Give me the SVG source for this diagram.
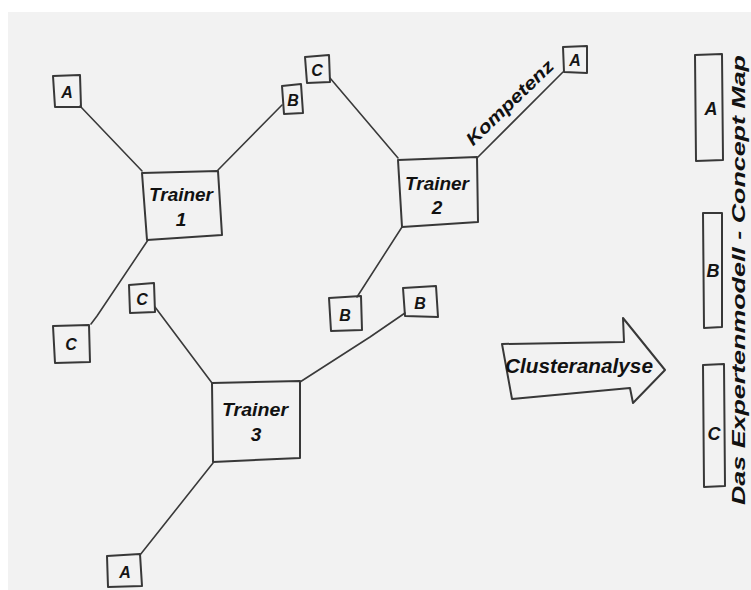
<svg xmlns="http://www.w3.org/2000/svg" width="751" height="590" viewBox="0 0 751 590">
  <style>
    .thin { fill: none; stroke: #3a3a3a; stroke-width: 1.6; stroke-linecap: round; stroke-linejoin: round; }
    .box { fill: none; stroke: #383838; stroke-width: 2; stroke-linejoin: round; }
    .hand { font-family: "Liberation Sans", "DejaVu Sans", sans-serif; font-style: italic; font-weight: bold; fill: #111; }
    .letter { font-family: "Liberation Sans", "DejaVu Sans", sans-serif; font-style: italic; font-weight: bold; font-size: 16px; fill: #151515; text-anchor: middle; }
    .big { font-size: 18px; }
    .trainer { font-size: 19px; text-anchor: middle; }
  </style>

  <!-- paper sheet on a white margin -->
  <rect x="0" y="0" width="751" height="590" fill="#ffffff"/>
  <rect x="8" y="12" width="743" height="578" fill="#f2f2f2"/>

  <!-- connectors -->
  <g id="connectors">
    <path class="thin" d="M80,106 L142,171"/>
    <path class="thin" d="M282,105 L218,170"/>
    <path class="thin" d="M148,240 L97,316 L91,324"/>
    <path class="thin" d="M330,78 L398,158"/>
    <path class="thin" d="M477,158 L563,72"/>
    <path class="thin" d="M402,227 L357,297"/>
    <path class="thin" d="M155,307 L212,383"/>
    <path class="thin" d="M405,313 L370,337 L300,382"/>
    <path class="thin" d="M213,463 L140,555"/>
  </g>

  <!-- Trainer 1 cluster -->
  <g id="trainer1">
    <path class="box" d="M142,173 L218,171 L222,235 L147,240 Z"/>
    <text class="hand trainer" x="181" y="201" textLength="64" lengthAdjust="spacingAndGlyphs">Trainer</text>
    <text class="hand trainer" x="181" y="226">1</text>
  </g>
  <g id="t1-a">
    <path class="box" d="M53,76 L80,75 L81,107 L55,107 Z"/>
    <text class="letter" x="67" y="98">A</text>
  </g>
  <g id="t1-b">
    <path class="box" d="M282,86 L301,84 L303,113 L284,114 Z"/>
    <text class="letter" x="293" y="106">B</text>
  </g>
  <g id="t1-c">
    <path class="box" d="M53,326 L89,325 L90,362 L55,363 Z"/>
    <text class="letter" x="71" y="350">C</text>
  </g>

  <!-- Trainer 2 cluster -->
  <g id="trainer2">
    <path class="box" d="M398,160 L477,157 L478,222 L402,227 Z"/>
    <text class="hand trainer" x="437" y="190" textLength="64" lengthAdjust="spacingAndGlyphs">Trainer</text>
    <text class="hand trainer" x="437" y="214">2</text>
  </g>
  <g id="t2-c">
    <path class="box" d="M305,57 L329,55 L330,82 L307,83 Z"/>
    <text class="letter" x="317" y="76">C</text>
  </g>
  <g id="t2-a">
    <path class="box" d="M563,47 L587,46 L587,73 L564,72 Z"/>
    <text class="letter" x="575" y="66">A</text>
  </g>
  <g id="t2-b">
    <path class="box" d="M329,298 L361,296 L362,330 L331,331 Z"/>
    <text class="letter" x="345" y="321">B</text>
  </g>
  <text class="hand" x="514" y="107" font-size="18" text-anchor="middle" transform="rotate(-44 514 107)" textLength="114" lengthAdjust="spacingAndGlyphs">Kompetenz</text>

  <!-- Trainer 3 cluster -->
  <g id="trainer3">
    <path class="box" d="M212,383 L300,381 L300,458 L213,462 Z"/>
    <text class="hand trainer" x="255" y="416" textLength="66" lengthAdjust="spacingAndGlyphs">Trainer</text>
    <text class="hand trainer" x="256" y="441">3</text>
  </g>
  <g id="t3-c">
    <path class="box" d="M129,285 L154,283 L155,312 L130,313 Z"/>
    <text class="letter" x="142" y="305">C</text>
  </g>
  <g id="t3-b">
    <path class="box" d="M403,288 L436,286 L438,317 L405,316 Z"/>
    <text class="letter" x="420" y="309">B</text>
  </g>
  <g id="t3-a">
    <path class="box" d="M107,556 L140,554 L142,586 L108,587 Z"/>
    <text class="letter" x="125" y="578">A</text>
  </g>

  <!-- cluster analysis arrow -->
  <g id="clusteranalyse">
    <path class="box" d="M502,344 L624,342 L623,318 L665,370 L633,403 L630,388 L512,399 Z"/>
    <text class="hand" x="505" y="373" font-size="20" textLength="148" lengthAdjust="spacingAndGlyphs">Clusteranalyse</text>
  </g>

  <!-- resulting concept map clusters -->
  <g id="cluster-a">
    <path class="box" d="M695,55 L722,54 L723,160 L696,161 Z"/>
    <text class="letter big" x="711" y="115">A</text>
  </g>
  <g id="cluster-b">
    <path class="box" d="M703,213 L722,213 L722,327 L704,328 Z"/>
    <text class="letter big" x="713" y="277">B</text>
  </g>
  <g id="cluster-c">
    <path class="box" d="M703,365 L724,364 L725,486 L704,487 Z"/>
    <text class="letter big" x="714" y="440">C</text>
  </g>

  <!-- title -->
  <text class="hand" x="745" y="280" font-size="18" text-anchor="middle" transform="rotate(-90 745 280)" textLength="450" lengthAdjust="spacingAndGlyphs">Das Expertenmodell - Concept Map</text>
</svg>
